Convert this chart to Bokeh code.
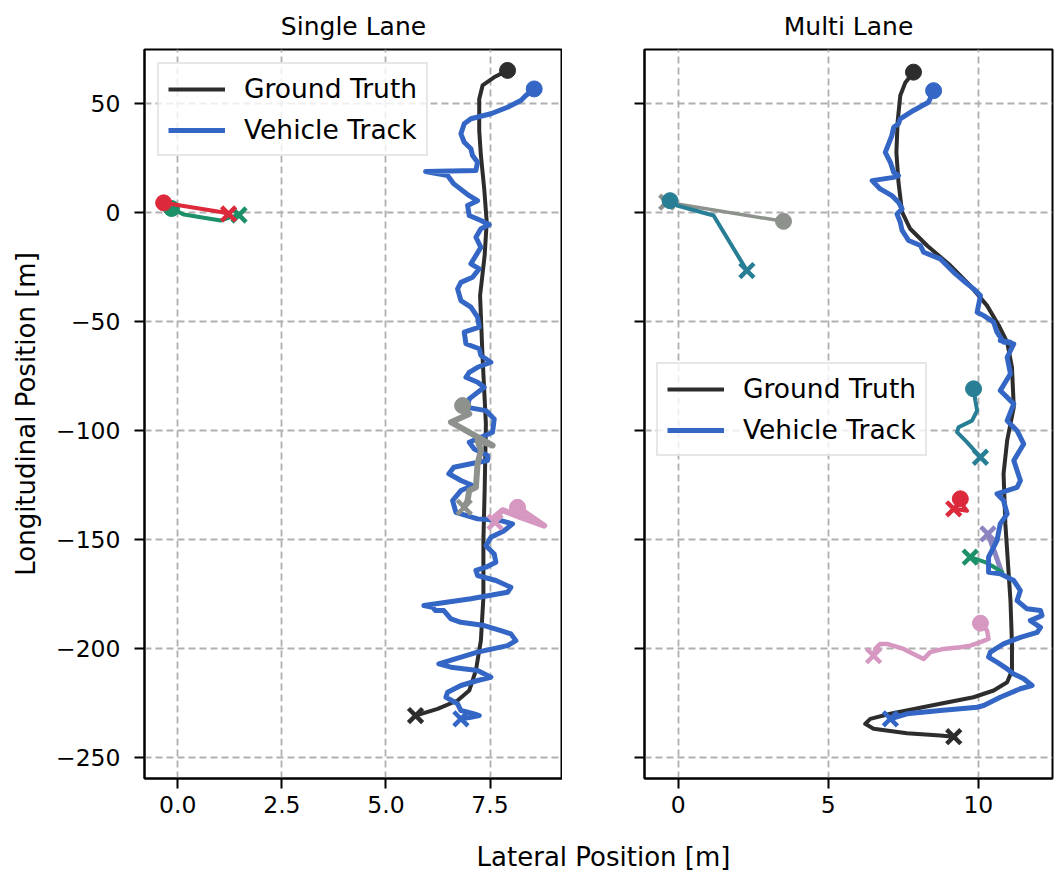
from bokeh.plotting import figure
from bokeh.layouts import row, column
from bokeh.models import (Legend, LegendItem, FixedTicker, CustomJSTickFormatter,
                          Range1d, Label, NumeralTickFormatter)
from bokeh.embed import file_html
from bokeh.resources import INLINE

FONT = "DejaVu Sans"

# ---------------- data: Single Lane ----------------
sl_gt_x = [7.92, 7.62, 7.32, 7.24, 7.24, 7.28, 7.36, 7.42, 7.37, 7.26, 7.32, 7.40, 7.37, 7.34,
           7.34, 7.28, 7.16, 7.00, 6.72, 6.24, 5.71]
sl_gt_y = [65.4, 62.5, 58.5, 52.3, 37.8, 26.3, 11.0, -4.3, -19.6, -38.0, -66.3, -96.9, -127.5,
           -150.5, -176.5, -196.3, -210.1, -219.3, -223.9, -227.7, -230.8]

sl_track_x = [8.56, 8.36, 8.24, 7.92, 7.52, 7.04, 6.88, 6.80, 6.88, 7.04,
              7.08, 7.20, 7.16, 5.95, 6.48, 6.63, 7.00, 7.20, 6.96, 7.00,
              7.28, 7.48, 7.28, 7.16, 7.28, 7.16, 7.04, 7.24, 7.08, 6.80,
              6.72, 6.80, 7.04, 7.20, 7.24, 6.88, 6.92, 7.24, 7.28, 7.52,
              7.20, 7.00, 6.92, 7.20, 7.36, 7.00, 6.96, 7.40, 7.60, 7.56,
              7.28, 7.00, 7.12, 7.44, 7.44, 7.04, 6.63, 6.51, 6.80, 7.08,
              6.80, 6.60, 6.68, 7.20, 7.76, 8.04, 7.84, 7.52, 7.40, 7.60,
              7.64, 7.40, 7.16, 7.20, 7.64, 8.00, 7.92, 7.04, 5.91, 6.12,
              6.19, 6.39, 6.56, 6.80, 7.36, 7.76, 8.00, 8.12, 7.92, 7.20,
              6.27, 6.56, 7.20, 7.52, 7.20, 6.80, 6.48, 6.44, 6.72, 6.80,
              7.12, 7.24, 7.04, 6.80]
sl_track_y = [56.9, 53.9, 51.6, 48.5, 45.5, 43.2, 40.9, 36.3, 32.4, 29.4,
              26.3, 23.2, 19.4, 19.0, 17.1, 13.3, 7.9, 5.6, 3.4, -1.2,
              -3.5, -5.5, -7.3, -11.2, -15.8, -19.6, -23.4, -25.7, -29.6, -31.9,
              -34.9, -40.3, -43.3, -47.9, -52.5, -54.8, -60.1, -62.4, -65.5, -68.6,
              -70.9, -73.2, -75.5, -77.8, -80.1, -85.4, -89.3, -90.8, -94.6, -100.7,
              -103.0, -105.3, -108.4, -111.4, -113.7, -115.2, -116.8, -119.8, -122.9, -125.2,
              -127.5, -132.1, -137.5, -140.5, -141.3, -142.8, -145.9, -148.9, -152.8, -156.6,
              -160.4, -162.7, -164.2, -166.5, -168.8, -171.9, -174.2, -177.2, -180.3, -181.1,
              -182.6, -182.6, -186.4, -188.0, -189.5, -191.8, -193.3, -196.4, -198.7, -201.7,
              -207.1, -208.6, -210.1, -213.2, -214.7, -217.0, -220.1, -222.4, -225.4, -228.5,
              -230.0, -230.8, -231.6, -232.3]

sl_red_x = [-0.34, 1.07, 1.22]
sl_red_y = [4.6, 0.3, -0.5]
sl_green_x = [-0.15, 0.15, 0.55, 1.03, 1.27, 1.47]
sl_green_y = [2.0, -0.8, -2.0, -3.5, -2.0, -1.0]
sl_gray_x = [6.84, 7.00, 6.56, 7.56, 7.20, 7.28, 7.20, 7.16, 7.00, 6.96, 6.88]
sl_gray_y = [-88.5, -92.3, -96.1, -106.8, -104.5, -109.1, -115.2, -126.0, -127.5, -132.1, -135.2]
sl_pink_x = [8.16, 8.80, 8.20, 7.80, 7.60, 7.62]
sl_pink_y = [-135.2, -143.6, -139.5, -136.5, -139.8, -142.0]

# ---------------- data: Multi Lane ----------------
ml_gt_x = [7.84, 7.57, 7.40, 7.31, 7.27, 7.34, 7.46, 7.73, 8.29, 9.07, 9.73, 10.29, 10.68,
           10.96, 11.12, 11.18, 10.96, 10.84, 10.90, 11.01, 11.07, 11.12, 11.12, 10.96, 10.51,
           9.84, 8.73, 7.07, 6.40, 6.23, 6.51, 7.62, 8.73, 9.18]
ml_gt_y = [64.6, 59.9, 53.9, 41.6, 27.8, 14.0, 0.3, -7.3, -15.0, -24.2, -33.4, -42.6, -51.7,
           -59.4, -70.9, -89.3, -104.5, -119.8, -142.8, -165.7, -178.0, -197.9, -210.1, -215.5,
           -219.3, -222.4, -225.4, -230.0, -232.3, -234.6, -236.9, -238.9, -240.0, -240.5]

ml_track_x = [8.51, 8.34, 7.84, 7.40, 7.34, 7.18, 7.12, 6.90, 7.07, 7.18,
              7.34, 7.18, 6.46, 6.73, 7.12, 7.34, 7.46, 7.29, 7.40, 7.46,
              7.68, 8.07, 8.18, 8.73, 9.18, 9.57, 9.84, 10.07, 9.96, 10.18,
              10.51, 10.62, 10.84, 11.07, 10.73, 11.18, 10.96, 11.07, 10.73, 11.18,
              10.96, 11.29, 11.51, 11.18, 11.40, 11.29, 10.62, 10.84, 10.96, 10.73,
              10.62, 10.51, 10.34, 10.34, 10.73, 11.18, 11.40, 11.29, 11.62, 12.07,
              12.12, 11.73, 12.07, 11.96, 11.40, 10.84, 10.40, 10.34, 10.62, 10.96,
              11.18, 11.51, 11.79, 11.40, 10.73, 10.18, 9.96, 8.73, 7.62, 7.07]
ml_track_y = [56.1, 50.8, 47.0, 43.2, 40.9, 39.3, 35.5, 27.8, 23.2, 18.6,
              17.1, 16.3, 14.8, 11.0, 7.9, 4.9, 1.8, -0.5, -4.3, -8.1,
              -12.7, -15.0, -18.1, -21.1, -27.3, -31.9, -34.9, -38.0, -45.6, -47.2,
              -50.2, -54.8, -59.4, -59.4, -58.6, -60.2, -66.3, -73.9, -81.6, -87.7,
              -95.4, -100.0, -106.1, -113.7, -122.9, -126.0, -129.0, -132.1, -138.2, -142.8,
              -150.5, -153.5, -158.1, -165.0, -165.7, -168.8, -173.4, -178.0, -181.8, -182.6,
              -184.9, -187.2, -190.3, -192.6, -194.9, -197.9, -201.7, -204.0, -206.3, -209.4,
              -211.7, -213.9, -217.0, -218.5, -222.4, -226.2, -227.0, -228.5, -230.0, -232.3]

ml_gray_x = [3.51, -0.38]
ml_gray_y = [-3.9, 4.9]
ml_teal1_x = [-0.27, -0.04, 1.18, 2.29]
ml_teal1_y = [5.6, 3.4, -1.2, -26.5]
ml_teal2_x = [9.84, 9.90, 9.96, 9.79, 9.34, 9.29, 9.62, 10.07]
ml_teal2_y = [-80.8, -86.2, -90.8, -95.4, -98.4, -100.7, -105.3, -112.2]
ml_red_x = [9.40, 9.52, 9.62, 9.35, 9.18]
ml_red_y = [-131.3, -135.0, -136.8, -136.2, -135.9]
ml_purple_x = [10.75, 10.55, 10.32]
ml_purple_y = [-164.0, -156.0, -147.4]
ml_green_x = [10.80, 10.45, 10.25, 9.73]
ml_green_y = [-165.0, -162.0, -160.5, -158.1]
ml_pink_x = [10.07, 10.29, 10.34, 10.07, 9.73, 9.40, 8.84, 8.40, 8.18, 7.84, 7.51, 6.96, 6.73, 6.57, 6.51]
ml_pink_y = [-188.4, -191.8, -195.6, -197.1, -198.7, -199.4, -200.2, -201.7, -204.8, -202.5,
             -200.2, -197.9, -197.9, -200.2, -203.3]

y_ticks = [-250, -200, -150, -100, -50, 0, 50]
sl_x_ticks = [0.0, 2.5, 5.0, 7.5]
ml_x_ticks = [0, 5, 10]

BLACK = "#2d2d2d"
BLUE = "#3466c5"
RED = "#dc2a3c"
GREEN = "#1c9068"
GRAY = "#8d928d"
PINK = "#d697c1"
TEAL = "#287f95"
PURPLE = "#8a84c0"

minus_fmt = CustomJSTickFormatter(code="return tick < 0 ? '\u2212' + Math.abs(tick) : String(tick);")


def style(p, xticks, fmt):
    p.outline_line_color = "black"
    p.outline_line_width = 2
    p.outline_line_alpha = 1
    for ax in (p.xaxis, p.yaxis):
        ax.axis_line_width = 2
        ax.axis_line_color = "black"
        ax.major_tick_line_width = 2
        ax.major_tick_line_color = "black"
        ax.major_tick_out = 10
        ax.major_tick_in = 0
        ax.minor_tick_line_color = None
        ax.major_label_text_font = FONT
        ax.major_label_text_font_size = "23.5px"
        ax.major_label_text_color = "black"
        ax.axis_label_text_font = FONT
        ax.axis_label_text_font_style = "normal"
        ax.axis_label_text_font_size = "26px"
        ax.axis_label_text_color = "black"
    p.xaxis.major_label_standoff = 7
    p.yaxis.major_label_standoff = 14
    p.xaxis.ticker = FixedTicker(ticks=xticks)
    p.xaxis.formatter = fmt
    p.yaxis.ticker = FixedTicker(ticks=y_ticks)
    p.grid.grid_line_color = "#b0b0b0"
    p.grid.grid_line_dash = "7 4"
    p.grid.grid_line_width = 1.8
    p.title.text_font = FONT
    p.title.text_font_size = "25px"
    p.title.text_font_style = "normal"
    p.title.text_color = "black"
    p.title.align = "center"
    p.title.standoff = 18
    p.background_fill_color = "white"
    p.border_fill_color = "white"


def vehicle(p, xs, ys, color, lw, start=True):
    p.line(xs, ys, line_color=color, line_width=lw, line_join="round", line_cap="round")
    if start:
        p.scatter([xs[0]], [ys[0]], marker="circle", size=16, fill_color=color, line_color=color)
    p.scatter([xs[-1]], [ys[-1]], marker="x", size=20, line_color=color, line_width=4.5)


def make_legend(r_gt, r_tr, loc):
    lg = Legend(items=[LegendItem(label="Ground Truth", renderers=[r_gt]),
                       LegendItem(label="Vehicle Track", renderers=[r_tr])],
                location=loc)
    lg.label_text_font = FONT
    lg.label_text_font_size = "26.5px"
    lg.label_text_color = "black"
    lg.glyph_width = 57
    lg.glyph_height = 28
    lg.label_height = 28
    lg.spacing = 10
    lg.padding = 9
    lg.label_standoff = 19
    lg.margin = 13
    lg.border_line_color = "#cfcfcf"
    lg.border_line_width = 2
    lg.background_fill_alpha = 0.8
    return lg


# ---------------- left figure ----------------
p1 = figure(width=562, height=830, output_backend="svg", toolbar_location=None,
            x_range=Range1d(-0.8, 9.24), y_range=Range1d(-259.7, 75.0),
            min_border_left=144, min_border_right=0, min_border_top=49, min_border_bottom=52,
            title="Single Lane")
style(p1, sl_x_ticks, NumeralTickFormatter(format="0.0"))
p1.yaxis.formatter = minus_fmt
p1.yaxis.axis_label = "Longitudinal Position [m]"
p1.yaxis.axis_label_standoff = 12

r1_gt = p1.line(sl_gt_x, sl_gt_y, line_color=BLACK, line_width=4, line_join="round")
p1.scatter([sl_gt_x[0]], [sl_gt_y[0]], marker="circle", size=16, color=BLACK)
p1.scatter([sl_gt_x[-1]], [sl_gt_y[-1]], marker="x", size=20, line_color=BLACK, line_width=4.5)
r1_tr = p1.line(sl_track_x, sl_track_y, line_color=BLUE, line_width=5, line_join="round")
p1.scatter([sl_track_x[0]], [sl_track_y[0]], marker="circle", size=16, color=BLUE)
p1.scatter([sl_track_x[-1]], [sl_track_y[-1]], marker="x", size=20, line_color=BLUE, line_width=4.5)

vehicle(p1, sl_green_x, sl_green_y, GREEN, 4)
vehicle(p1, sl_red_x, sl_red_y, RED, 4)
vehicle(p1, sl_gray_x, sl_gray_y, GRAY, 6)
vehicle(p1, sl_pink_x, sl_pink_y, PINK, 6)

p1.add_layout(make_legend(r1_gt, r1_tr, "top_left"))

# ---------------- right figure ----------------
p2 = figure(width=493, height=830, output_backend="svg", toolbar_location=None,
            x_range=Range1d(-1.12, 12.47), y_range=p1.y_range,
            min_border_left=82, min_border_right=3, min_border_top=49, min_border_bottom=52,
            title="Multi Lane")
style(p2, ml_x_ticks, NumeralTickFormatter(format="0"))
p2.yaxis.formatter = CustomJSTickFormatter(code="return '';")

vehicle(p2, ml_gray_x, ml_gray_y, GRAY, 3.5)
vehicle(p2, ml_teal1_x, ml_teal1_y, TEAL, 4)
vehicle(p2, ml_teal2_x, ml_teal2_y, TEAL, 4)
vehicle(p2, ml_red_x, ml_red_y, RED, 4)
vehicle(p2, ml_purple_x, ml_purple_y, PURPLE, 5, start=False)
vehicle(p2, ml_green_x, ml_green_y, GREEN, 4, start=False)
vehicle(p2, ml_pink_x, ml_pink_y, PINK, 4.5)

r2_gt = p2.line(ml_gt_x, ml_gt_y, line_color=BLACK, line_width=4, line_join="round")
p2.scatter([ml_gt_x[0]], [ml_gt_y[0]], marker="circle", size=16, color=BLACK)
p2.scatter([ml_gt_x[-1]], [ml_gt_y[-1]], marker="x", size=20, line_color=BLACK, line_width=4.5)
r2_tr = p2.line(ml_track_x, ml_track_y, line_color=BLUE, line_width=5, line_join="round")
p2.scatter([ml_track_x[0]], [ml_track_y[0]], marker="circle", size=16, color=BLUE)
p2.scatter([ml_track_x[-1]], [ml_track_y[-1]], marker="x", size=20, line_color=BLUE, line_width=4.5)

p2.add_layout(make_legend(r2_gt, r2_tr, (12, 322)))

# ---------------- shared x label ----------------
p3 = figure(width=1055, height=42, output_backend="svg", toolbar_location=None,
            x_range=Range1d(0, 1055), y_range=Range1d(0, 42),
            min_border=0, min_border_left=0, min_border_right=0, min_border_top=0, min_border_bottom=0)
p3.axis.visible = False
p3.grid.visible = False
p3.outline_line_color = None
p3.add_layout(Label(x=603, y=16, x_units="screen", y_units="screen", text="Lateral Position [m]",
                    text_font=FONT, text_font_size="26px", text_align="center",
                    text_baseline="middle", text_color="black"))

layout = column(row(p1, p2, spacing=0), p3, spacing=0)

with open("out.html", "w") as f:
    f.write(file_html(layout, INLINE))
